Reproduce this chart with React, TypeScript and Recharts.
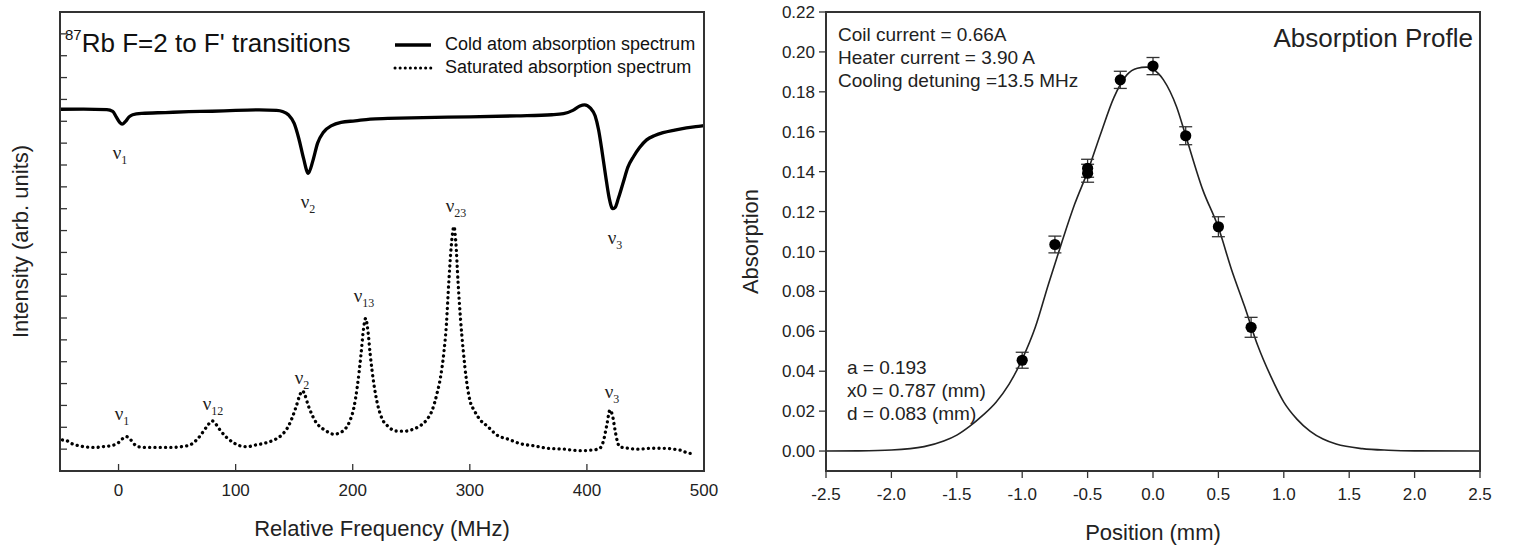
import React from 'react';
import { ComposedChart, Line, XAxis, YAxis, Scatter, ErrorBar, ReferenceDot, Legend, Label } from 'recharts';

const SANS = '"Liberation Sans", Arial, sans-serif';
const SERIF = '"Liberation Serif", "Times New Roman", serif';

// ---------- Left chart data ----------
const freqTicks = [0, 100, 200, 300, 400, 500];
const intensityTicks = [0, 1, 2, 3, 4, 5, 6, 7, 8, 9, 10, 11, 12, 13, 14, 15, 16, 17, 18, 19];
const freqDomain = [-50, 500];
const intensityDomain = [-1, 20];

const coldFreq = [-50, -30, -10, -5, -2, 1, 3, 6, 9, 12, 20, 40, 60, 80, 100, 120, 135, 140, 145, 150, 154, 158, 162, 166, 170, 175, 182, 190, 202, 215, 230, 260, 300, 340, 370, 380, 388, 394, 398, 403, 407, 410, 413, 416, 419, 422, 424, 427, 431, 435, 440, 445, 451, 458, 465, 475, 485, 497, 500];
const coldIntensity = [15.55, 15.56, 15.53, 15.45, 15.2, 14.95, 14.87, 15.0, 15.2, 15.3, 15.36, 15.4, 15.44, 15.46, 15.5, 15.52, 15.5, 15.45, 15.3, 14.9, 14.2, 13.3, 12.62, 13.2, 14.0, 14.5, 14.8, 14.95, 15.02, 15.1, 15.13, 15.17, 15.2, 15.25, 15.3, 15.35, 15.5, 15.7, 15.75, 15.6, 15.25, 14.6, 13.6, 12.5, 11.5, 11.0, 11.05, 11.5, 12.2, 12.9, 13.4, 13.8, 14.15, 14.35, 14.48, 14.6, 14.7, 14.78, 14.8];

const satFreq = [-48, -44, -40, -35, -28, -20, -12, -6, 0, 4, 7, 10, 14, 18, 25, 35, 45, 55, 62, 68, 73, 77, 80, 83, 87, 92, 98, 104, 110, 116, 122, 128, 134, 140, 144, 148, 152, 155, 157, 159, 162, 165, 169, 174, 179, 184, 189, 194, 198, 201, 204, 207, 209, 211, 213, 215, 218, 221, 225, 230, 237, 244, 251, 257, 263, 268, 272, 275, 278, 280, 282, 284, 286.5, 288, 290, 292, 294.4, 297, 300, 304, 309, 315, 323, 333, 343, 355, 366, 380, 394, 405, 411, 414, 417, 419.7, 422, 424, 426, 428, 435, 445, 455, 465, 474, 480, 487, 490];
const satIntensity = [0.42, 0.38, 0.25, 0.17, 0.1, 0.08, 0.12, 0.16, 0.3, 0.5, 0.57, 0.45, 0.2, 0.1, 0.08, 0.08, 0.08, 0.12, 0.22, 0.5, 0.85, 1.15, 1.29, 1.15, 0.85, 0.55, 0.3, 0.15, 0.11, 0.18, 0.24, 0.32, 0.45, 0.68, 0.95, 1.4, 2.0, 2.5, 2.67, 2.5, 2.0, 1.6, 1.2, 0.95, 0.78, 0.68, 0.75, 0.95, 1.35, 1.9, 2.9, 4.3, 5.4, 5.98, 5.4, 4.3, 3.0, 2.1, 1.4, 1.05, 0.83, 0.82, 0.9, 1.05, 1.33, 1.8, 2.55, 3.3, 4.5, 5.7, 7.6, 9.2, 10.18, 9.5, 7.6, 6.0, 4.5, 3.2, 2.25, 1.75, 1.33, 1.05, 0.65, 0.45, 0.25, 0.15, 0.04, 0.0, -0.07, -0.04, 0.04, 0.35, 1.1, 1.79, 1.5, 0.88, 0.35, 0.11, 0.04, 0.0, 0.04, 0.04, 0.0, -0.05, -0.19, -0.2];

const peakSubscripts = ['1', '2', '3', '1', '12', '2', '13', '23', '3'];
const peakLabelFreq = [1.2, 161.8, 424, 2.9, 80.7, 156.7, 209.6, 288.2, 421.4];
const peakLabelIntensity = [13.55, 11.3, 9.66, 1.61, 2.06, 3.25, 7.0, 11.12, 2.61];

const leftTitle = { sup: '87', main: "Rb F=2 to F' transitions", freq: -45.7, intensity: 18.4 };

// ---------- Right chart data ----------
const positionTicks = [-2.5, -2.0, -1.5, -1.0, -0.5, 0.0, 0.5, 1.0, 1.5, 2.0, 2.5];
const absorptionTicks = [0, 0.02, 0.04, 0.06, 0.08, 0.1, 0.12, 0.14, 0.16, 0.18, 0.2, 0.22];
const positionDomain = [-2.5, 2.5];
const absorptionDomain = [-0.01, 0.22];

const pointPosition = [-1.0, -0.75, -0.5, -0.5, -0.25, 0.0, 0.25, 0.5, 0.75];
const pointAbsorption = [0.0455, 0.1035, 0.1417, 0.1392, 0.186, 0.1929, 0.158, 0.1124, 0.062];
const pointError = [0.004, 0.0042, 0.0045, 0.0045, 0.0043, 0.0043, 0.0045, 0.005, 0.005];

const fitPosition = [-2.5, -2.25, -2.0, -1.75, -1.6, -1.5, -1.4, -1.3, -1.2, -1.1, -1.0, -0.9, -0.8, -0.7, -0.6, -0.5, -0.4, -0.3, -0.2, -0.12, -0.05, 0.0, 0.08, 0.18, 0.25, 0.38, 0.5, 0.6, 0.7, 0.8, 0.9, 1.0, 1.1, 1.2, 1.3, 1.4, 1.6, 1.8, 2.0, 2.5];
const fitAbsorption = [0.0, 0.0001, 0.0005, 0.0022, 0.005, 0.008, 0.0125, 0.018, 0.0245, 0.0335, 0.046, 0.062, 0.0835, 0.104, 0.1235, 0.14, 0.159, 0.177, 0.1885, 0.1918, 0.1924, 0.1913, 0.186, 0.1725, 0.158, 0.131, 0.112, 0.091, 0.0725, 0.053, 0.0375, 0.0245, 0.016, 0.01, 0.006, 0.0035, 0.0012, 0.0004, 0.0001, 0.0];

const conditionLines = ['Coil current = 0.66A', 'Heater current = 3.90 A', 'Cooling detuning =13.5 MHz'];
const fitParamLines = ['a = 0.193', 'x0 = 0.787 (mm)', 'd = 0.083 (mm)'];
const rightTitle = 'Absorption Profle';

// ---------- Derived rows ----------
const coldData = coldFreq.map((x, i) => ({ x, y: coldIntensity[i] }));
const satData = satFreq.map((x, i) => ({ x, y: satIntensity[i] }));
const fitData = fitPosition.map((x, i) => ({ x, y: fitAbsorption[i] }));
const pointData = pointPosition.map((x, i) => ({ x, y: pointAbsorption[i], err: pointError[i] }));

const legendLook: Record<string, any> = {
  'Cold atom absorption spectrum': { strokeWidth: 3.4 },
  'Saturated absorption spectrum': { strokeWidth: 3, strokeDasharray: '0.1 5', strokeLinecap: 'round' },
};

const renderLegend = (props: any) => (
  <div style={{ fontFamily: SANS, fontSize: 18, color: '#111', lineHeight: '23px' }}>
    {(props.payload || []).filter((e: any) => legendLook[e.value]).map((entry: any) => (
      <div key={entry.value} style={{ display: 'flex', alignItems: 'center', whiteSpace: 'nowrap' }}>
        <svg width={44} height={10} style={{ marginRight: 8 }}>
          <line x1={2} y1={5} x2={38} y2={5} stroke="#000" {...legendLook[entry.value]} />
        </svg>
        <span>{entry.value}</span>
      </div>
    ))}
  </div>
);

const TICK = '#333';
const inwardTick = (side: string, showLabel: boolean) => (props: any) => {
  const { x, y, payload } = props;
  const L = 7;
  let line: any = null;
  if (side === 'bottom') line = <line x1={x} y1={y} x2={x} y2={y - L} stroke={TICK} strokeWidth={1.3} />;
  if (side === 'top') line = <line x1={x} y1={y} x2={x} y2={y + L} stroke={TICK} strokeWidth={1.3} />;
  if (side === 'left') line = <line x1={x} y1={y} x2={x + L} y2={y} stroke={TICK} strokeWidth={1.3} />;
  if (side === 'right') line = <line x1={x} y1={y} x2={x - L} y2={y} stroke={TICK} strokeWidth={1.3} />;
  return (
    <g>
      {line}
      {showLabel ? (
        <text x={x} y={y + 25} textAnchor="middle" fontFamily={SANS} fontSize={17} fill="#222">{payload.value}</text>
      ) : null}
    </g>
  );
};

const NuLabel = (sub: string) => (props: any) => (
  <text x={props.cx} y={props.cy} dy="0.3em" textAnchor="middle" fontFamily={SERIF} fontSize={19} fill="#222">
    ν<tspan fontSize={12} dy={5}>{sub}</tspan>
  </text>
);

const TitleShape = (props: any) => (
  <text x={props.cx} y={props.cy} dy="0.36em" fontFamily={SANS} fontSize={26} fill="#111">
    <tspan fontSize={15} dy="-0.45em">{leftTitle.sup}</tspan>
    <tspan dy="0.45em">{leftTitle.main}</tspan>
  </text>
);

const BlockShape = (lines: string[], size: number, anchor: string) => (props: any) => (
  <text x={props.cx} y={props.cy} fontFamily={SANS} fontSize={size} fill="#222" textAnchor={anchor}>
    {lines.map((l, i) => (
      <tspan key={i} x={props.cx} dy={i === 0 ? '0.36em' : 23}>{l}</tspan>
    ))}
  </text>
);

const axisStroke = { stroke: '#333', strokeWidth: 1.7 };

// frame drawn around each plot area (same geometry as the chart margins)
const frameStyle = (left: number, width: number): React.CSSProperties => ({
  position: 'absolute', left, top: 11, width, height: 461, border: '2px solid #333',
  boxSizing: 'border-box', pointerEvents: 'none',
});

function LeftChart() {
  return (
    <ComposedChart width={730} height={548} margin={{ top: 11, right: 25, bottom: 0, left: 0 }}>
      <XAxis dataKey="x" type="number" domain={freqDomain} ticks={freqTicks} height={77} interval={0}
        tickSize={0} tickMargin={0} tickLine={false} axisLine={axisStroke}
        tick={inwardTick('bottom', true)}>
        <Label value="Relative Frequency (MHz)" position="insideBottom" offset={12}
          style={{ fontFamily: SANS, fontSize: 22, fill: '#222' }} />
      </XAxis>
      <XAxis xAxisId="top" orientation="top" dataKey="x" type="number" domain={freqDomain} ticks={freqTicks}
        height={1} interval={0} tickSize={0} tickMargin={0} tickLine={false} axisLine={false}
        tick={inwardTick('top', false)} />
      <YAxis type="number" domain={intensityDomain} ticks={intensityTicks} width={60} interval={0}
        tickSize={0} tickMargin={0} tickLine={false} axisLine={axisStroke}
        tick={inwardTick('left', false)}>
        <Label value="Intensity (arb. units)" angle={-90} position="insideLeft" offset={20}
          style={{ fontFamily: SANS, fontSize: 22, fill: '#222', textAnchor: 'middle' }} />
      </YAxis>
      <YAxis yAxisId="right" orientation="right" type="number" domain={intensityDomain} ticks={intensityTicks} width={1}
        interval={0} tickSize={0} tickMargin={0} tickLine={false} axisLine={false}
        tick={inwardTick('right', false)} />
      <Legend content={renderLegend} layout="vertical" align="center" verticalAlign="middle"
        wrapperStyle={{ top: 33, left: 393, width: 330, height: 50 }} />
      <Line name="Cold atom absorption spectrum" data={coldData} dataKey="y" type="monotone" stroke="#000"
        strokeWidth={3.3} dot={false} isAnimationActive={false} strokeLinejoin="round" />
      <Line name="Saturated absorption spectrum" data={satData} dataKey="y" type="monotone" stroke="#000"
        strokeWidth={3.3} strokeDasharray="0.1 5.2" strokeLinecap="round" dot={false} isAnimationActive={false} />
      {peakSubscripts.map((s, i) => (
        <ReferenceDot key={i} x={peakLabelFreq[i]} y={peakLabelIntensity[i]} r={1} shape={NuLabel(s)} />
      ))}
      <ReferenceDot x={leftTitle.freq} y={leftTitle.intensity} r={1} shape={TitleShape} />
    </ComposedChart>
  );
}

function RightChart() {
  return (
    <ComposedChart width={783} height={548} margin={{ top: 12, right: 33, bottom: 0, left: 0 }}>
      <XAxis dataKey="x" type="number" domain={positionDomain} ticks={positionTicks} height={77} interval={0}
        tickSize={7} tickMargin={10} tickFormatter={(v: number) => v.toFixed(1)}
        axisLine={axisStroke} tickLine={{ stroke: '#333', strokeWidth: 1.3 }}
        tick={{ fill: '#222', fontSize: 17, fontFamily: SANS }}>
        <Label value="Position (mm)" position="insideBottom" offset={8}
          style={{ fontFamily: SANS, fontSize: 22, fill: '#222' }} />
      </XAxis>
      <YAxis type="number" domain={absorptionDomain} ticks={absorptionTicks} width={96} interval={0}
        tickSize={7} tickMargin={4}
        tickFormatter={(v: number) => v.toFixed(2)} axisLine={axisStroke} tickLine={{ stroke: '#333', strokeWidth: 1.3 }}
        tick={{ fill: '#222', fontSize: 17, fontFamily: SANS }}>
        <Label value="Absorption" angle={-90} position="insideLeft" offset={20}
          style={{ fontFamily: SANS, fontSize: 22, fill: '#222', textAnchor: 'middle' }} />
      </YAxis>
      <Line data={fitData} dataKey="y" type="monotone" stroke="#222" strokeWidth={1.6} dot={false}
        isAnimationActive={false} />
      <Scatter data={pointData} dataKey="y" fill="#000" isAnimationActive={false}
        shape={(p: any) => <circle cx={p.cx} cy={p.cy} r={5.6} fill="#000" />}>
        <ErrorBar dataKey="err" direction="y" width={6.5} stroke="#333" strokeWidth={1.3} />
      </Scatter>
      <ReferenceDot x={-2.408} y={0.209} r={1} shape={BlockShape(conditionLines, 19, 'start')} />
      <ReferenceDot x={-2.34} y={0.0421} r={1} shape={BlockShape(fitParamLines, 19, 'start')} />
      <ReferenceDot x={2.446} y={0.207} r={1} shape={BlockShape([rightTitle], 26, 'end')} />
    </ComposedChart>
  );
}

export default function App() {
  return (
    <div style={{ position: 'absolute', left: 0, top: 0, width: 1513, height: 548, background: '#fff', overflow: 'hidden' }}>
      <div style={{ position: 'absolute', left: 0, top: 0 }}>
        <LeftChart />
      </div>
      <div style={{ position: 'absolute', left: 730, top: 0 }}>
        <RightChart />
      </div>
      <div style={frameStyle(59, 646)} />
      <div style={frameStyle(825, 656)} />
    </div>
  );
}
